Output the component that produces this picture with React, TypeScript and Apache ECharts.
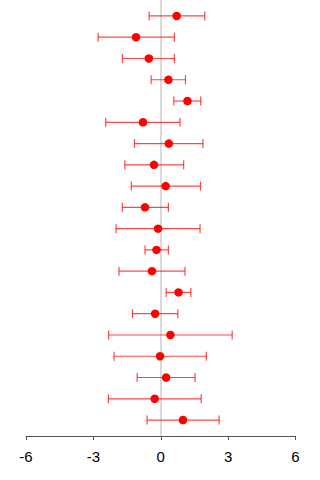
import React, { useEffect, useRef } from "react";
import * as echarts from "echarts";

// Study rows, top to bottom
const rows = [
  "1", "2", "3", "4", "5", "6", "7", "8", "9", "10",
  "11", "12", "13", "14", "15", "16", "17", "18", "19", "20",
];
// Point estimates
const estimates = [
  0.71, -1.1, -0.53, 0.34, 1.19, -0.79, 0.36, -0.3, 0.22, -0.7,
  -0.12, -0.19, -0.39, 0.79, -0.25, 0.43, -0.03, 0.24, -0.27, 0.99,
];
// Lower interval bounds
const lower = [
  -0.52, -2.79, -1.71, -0.43, 0.58, -2.45, -1.17, -1.6, -1.31, -1.71,
  -1.99, -0.7, -1.86, 0.24, -1.26, -2.32, -2.08, -1.05, -2.33, -0.61,
];
// Upper interval bounds
const upper = [
  1.96, 0.61, 0.61, 1.1, 1.78, 0.86, 1.88, 1.02, 1.77, 0.34,
  1.75, 0.34, 1.08, 1.34, 0.76, 3.18, 2.03, 1.53, 1.8, 2.6,
];
const xTicks = [-6, -3, 0, 3, 6];

export default function App() {
  const ref = useRef<HTMLDivElement>(null);

  useEffect(() => {
    if (!ref.current) return;
    const chart = echarts.init(ref.current, undefined, { renderer: "svg" });

    const barData = rows.map((_, i) => [lower[i], upper[i], i + 1]);
    const pointData = rows.map((_, i) => [estimates[i], i + 1]);
    const lineColor = "rgba(255,0,0,0.72)";

    chart.setOption({
      animation: false,
      grid: { left: 26, right: 24.5, top: 0, bottom: 44, containLabel: false },
      xAxis: {
        type: "value",
        min: xTicks[0],
        max: xTicks[xTicks.length - 1],
        interval: 3,
        splitLine: { show: false },
        axisLine: { show: true, onZero: false, lineStyle: { color: "#555", width: 1 } },
        axisTick: { show: true, length: 4, lineStyle: { color: "#555" } },
        axisLabel: {
          color: "#000",
          fontSize: 15,
          fontFamily: "Liberation Sans, Arial, sans-serif",
          margin: 13,
        },
      },
      yAxis: {
        type: "value",
        min: 0.25,
        max: 20.75,
        inverse: true,
        show: false,
      },
      series: [
        {
          type: "line",
          data: [],
          z: 1,
          markLine: {
            silent: true,
            symbol: "none",
            z: 1,
            label: { show: false },
            lineStyle: { color: "#d9d9d9", width: 2, type: "solid" },
            data: [{ xAxis: 0 }],
          },
        },
        {
          type: "custom",
          data: barData,
          encode: { x: [0, 1], y: 2 },
          renderItem: (params: any, api: any) => {
            const lo = api.coord([api.value(0), api.value(2)]);
            const hi = api.coord([api.value(1), api.value(2)]);
            const h = 4.5;
            const style = { stroke: lineColor, lineWidth: 1.2, fill: "none" };
            return {
              type: "group",
              children: [
                { type: "line", shape: { x1: lo[0], y1: lo[1], x2: hi[0], y2: hi[1] }, style },
                { type: "line", shape: { x1: lo[0], y1: lo[1] - h, x2: lo[0], y2: lo[1] + h }, style },
                { type: "line", shape: { x1: hi[0], y1: hi[1] - h, x2: hi[0], y2: hi[1] + h }, style },
              ],
            };
          },
          z: 2,
        },
        {
          type: "scatter",
          data: pointData,
          symbol: "circle",
          symbolSize: 8.5,
          itemStyle: { color: "#ff0000", opacity: 1 },
          z: 3,
        },
      ],
    });

    return () => chart.dispose();
  }, []);

  return <div ref={ref} style={{ width: 320, height: 480, position: "absolute", left: 0, top: 0 }} />;
}
